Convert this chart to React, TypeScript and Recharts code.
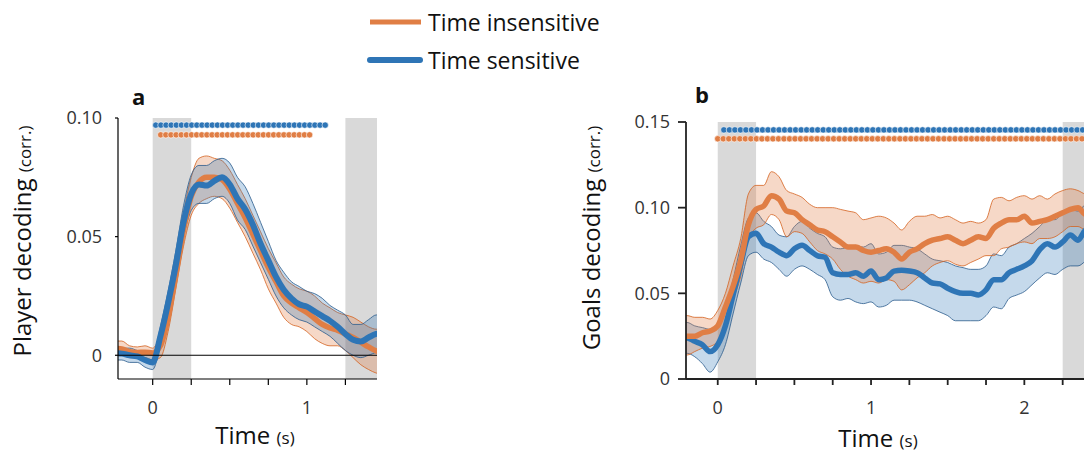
import React from "react";
import {
  Area,
  ComposedChart,
  Line,
  ReferenceArea,
  ReferenceLine,
  Scatter,
  XAxis,
  YAxis,
} from "recharts";

const ORANGE = "#E07E45";
const BLUE = "#2E75B6";
const ORANGE_EDGE = "#D4621F";
const BLUE_EDGE = "#2A5A8C";
const SHADE = "#D9D9D9";
const FONT = "'Open Sans', 'Noto Sans', sans-serif";

// panel a: player decoding
const TIME_A = [
  -0.25, -0.2, -0.15, -0.1, -0.05, 0, 0.05, 0.1, 0.15, 0.2, 0.25, 0.3, 0.35, 0.4, 0.45, 0.5, 0.55, 0.6,
  0.65, 0.7, 0.75, 0.8, 0.85, 0.9, 0.95, 1, 1.05, 1.1, 1.15, 1.2, 1.25, 1.3, 1.35, 1.4, 1.45, 1.5,
];
const INSENS_A = [
  0.003, 0.0027, 0.0015, 0.0012, 0.0013, 0.001, 0.004, 0.016, 0.034, 0.053, 0.067, 0.073, 0.075, 0.075,
  0.074, 0.07, 0.064, 0.058, 0.051, 0.044, 0.037, 0.031, 0.025, 0.022, 0.02, 0.018, 0.0155, 0.013, 0.0115,
  0.0105, 0.009, 0.0075, 0.0055, 0.0035, 0.0018, 0.001,
];
const INSENS_A_LO = [
  0, 0, -0.001, -0.001, -0.001, -0.002, -0.001, 0.01, 0.028, 0.046, 0.059, 0.064, 0.066, 0.067, 0.066,
  0.062, 0.056, 0.05, 0.043, 0.036, 0.028, 0.022, 0.016, 0.013, 0.012, 0.01, 0.007, 0.005, 0.004, 0.004,
  0.002, -0.001, -0.004, -0.006, -0.0075, -0.008,
];
const INSENS_A_HI = [
  0.006, 0.006, 0.004, 0.0035, 0.004, 0.003, 0.009, 0.022, 0.04, 0.06, 0.075, 0.083, 0.084, 0.083, 0.082,
  0.078, 0.072, 0.066, 0.059, 0.052, 0.045, 0.039, 0.033, 0.03, 0.028, 0.027, 0.025, 0.022, 0.02, 0.018,
  0.017, 0.016, 0.014, 0.012, 0.011, 0.011,
];
const SENS_A = [
  0.001, 0.0007, 0, -0.0005, -0.002, -0.003, 0.008, 0.022, 0.038, 0.056, 0.068, 0.072, 0.0715, 0.0735,
  0.075, 0.072, 0.066, 0.0615, 0.055, 0.047, 0.04, 0.033, 0.0276, 0.024, 0.0215, 0.0205, 0.0185, 0.0165,
  0.0145, 0.012, 0.009, 0.0065, 0.0058, 0.0075, 0.009, 0.0095,
];
const SENS_A_LO = [
  -0.002, -0.002, -0.003, -0.003, -0.005, -0.006, 0.004, 0.017, 0.032, 0.05, 0.061, 0.064, 0.064, 0.066,
  0.067, 0.064, 0.057, 0.053, 0.046, 0.039, 0.032, 0.025, 0.02, 0.017, 0.015, 0.014, 0.012, 0.01, 0.008,
  0.005, 0.002, 0, -0.001, 0, 0.001, 0.001,
];
const SENS_A_HI = [
  0.003, 0.003, 0.003, 0.002, 0.001, 0, 0.012, 0.027, 0.044, 0.063, 0.076, 0.08, 0.08, 0.082, 0.083,
  0.081, 0.075, 0.071, 0.064, 0.056, 0.048, 0.04, 0.035, 0.031, 0.029, 0.027, 0.026, 0.024, 0.021, 0.019,
  0.017, 0.013, 0.013, 0.015, 0.017, 0.017,
];

// panel b: goals decoding
const TIME_B = [
  -0.25, -0.2, -0.15, -0.1, -0.05, 0, 0.05, 0.1, 0.15, 0.2, 0.25, 0.3, 0.35, 0.4, 0.45, 0.5, 0.55, 0.6,
  0.65, 0.7, 0.75, 0.8, 0.85, 0.9, 0.95, 1, 1.05, 1.1, 1.15, 1.2, 1.25, 1.3, 1.35, 1.4, 1.45, 1.5, 1.55,
  1.6, 1.65, 1.7, 1.75, 1.8, 1.85, 1.9, 1.95, 2, 2.05, 2.1, 2.15, 2.2, 2.25, 2.3, 2.35, 2.4, 2.45, 2.5,
];
const INSENS_B = [
  0.025, 0.025, 0.025, 0.027, 0.028, 0.031, 0.042, 0.054, 0.069, 0.09, 0.099, 0.101, 0.107, 0.105, 0.098,
  0.097, 0.093, 0.09, 0.087, 0.086, 0.083, 0.08, 0.077, 0.077, 0.075, 0.074, 0.075, 0.076, 0.074, 0.07,
  0.074, 0.076, 0.079, 0.081, 0.082, 0.083, 0.081, 0.079, 0.081, 0.083, 0.082, 0.088, 0.091, 0.093, 0.093,
  0.095, 0.091, 0.092, 0.093, 0.095, 0.097, 0.099, 0.1, 0.096, 0.097, 0.097,
];
const INSENS_B_LO = [
  0.014, 0.014, 0.016, 0.018, 0.019, 0.022, 0.032, 0.046, 0.06, 0.082, 0.088, 0.09, 0.096, 0.093, 0.083,
  0.086, 0.085, 0.08, 0.075, 0.073, 0.07, 0.064, 0.06, 0.058, 0.056, 0.057, 0.056, 0.058, 0.057, 0.052,
  0.055, 0.059, 0.062, 0.066, 0.068, 0.069, 0.067, 0.066, 0.068, 0.07, 0.072, 0.072, 0.076, 0.077, 0.079,
  0.08, 0.079, 0.082, 0.082, 0.083, 0.086, 0.089, 0.089, 0.087, 0.088, 0.088,
];
const INSENS_B_HI = [
  0.037, 0.037, 0.036, 0.036, 0.035, 0.04, 0.05, 0.066, 0.082, 0.108, 0.113, 0.113, 0.121, 0.118, 0.11,
  0.108, 0.106, 0.102, 0.1, 0.1, 0.1, 0.099, 0.098, 0.097, 0.093, 0.094, 0.095, 0.094, 0.091, 0.087, 0.092,
  0.095, 0.095, 0.096, 0.094, 0.095, 0.093, 0.091, 0.092, 0.091, 0.093, 0.105, 0.106, 0.104, 0.106, 0.107,
  0.105, 0.107, 0.105, 0.108, 0.11, 0.111, 0.11, 0.108, 0.108, 0.108,
];
const SENS_B = [
  0.024, 0.024, 0.022, 0.02, 0.016, 0.02, 0.031, 0.049, 0.067, 0.083, 0.085, 0.079, 0.077, 0.074, 0.072,
  0.076, 0.078, 0.075, 0.072, 0.071, 0.062, 0.061, 0.061, 0.062, 0.06, 0.063, 0.058, 0.059, 0.063, 0.0635,
  0.063, 0.062, 0.059, 0.056, 0.0555, 0.053, 0.051, 0.05, 0.05, 0.049, 0.052, 0.058, 0.058, 0.062, 0.064,
  0.066, 0.069, 0.0755, 0.079, 0.077, 0.08, 0.084, 0.081, 0.087, 0.088, 0.089,
];
const SENS_B_LO = [
  0.015, 0.015, 0.013, 0.009, 0.004, 0.01, 0.02, 0.038, 0.056, 0.072, 0.074, 0.07, 0.068, 0.064, 0.06,
  0.064, 0.066, 0.064, 0.061, 0.058, 0.048, 0.046, 0.047, 0.045, 0.044, 0.045, 0.042, 0.043, 0.046, 0.046,
  0.046, 0.045, 0.043, 0.041, 0.039, 0.037, 0.034, 0.034, 0.034, 0.034, 0.037, 0.042, 0.041, 0.047, 0.049,
  0.051, 0.055, 0.059, 0.062, 0.061, 0.064, 0.066, 0.066, 0.069, 0.073, 0.074,
];
const SENS_B_HI = [
  0.033, 0.033, 0.031, 0.03, 0.029, 0.03, 0.04, 0.058, 0.078, 0.094, 0.097, 0.092, 0.089, 0.084, 0.083,
  0.089, 0.092, 0.088, 0.085, 0.083, 0.077, 0.076, 0.077, 0.078, 0.077, 0.079, 0.073, 0.074, 0.078, 0.078,
  0.077, 0.076, 0.073, 0.07, 0.069, 0.068, 0.066, 0.065, 0.064, 0.064, 0.066, 0.073, 0.072, 0.077, 0.079,
  0.082, 0.085, 0.089, 0.093, 0.093, 0.097, 0.099, 0.098, 0.102, 0.103, 0.104,
];

// significance markers: [first time, last time, step, y level]
const SIG_A_SENS = [0.02, 1.12, 0.0333, 0.097];
const SIG_A_INSENS = [0.052, 1.026, 0.0333, 0.0929];
const SIG_B_SENS = [0.04, 2.5, 0.036, 0.1454];
const SIG_B_INSENS = [0.0, 2.5, 0.036, 0.1402];

const X_DOMAIN_A = [-0.225, 1.455];
const Y_DOMAIN_A = [-0.01, 0.1];
const X_TICKS_A = [0, 0.25, 0.5, 0.75, 1, 1.25];
const Y_TICKS_A = [0, 0.05, 0.1];

const X_DOMAIN_B = [-0.207, 2.5];
const Y_DOMAIN_B = [0, 0.15];
const X_TICKS_B = [0, 0.25, 0.5, 0.75, 1, 1.25, 1.5, 1.75, 2, 2.25];
const Y_TICKS_B = [0, 0.05, 0.1, 0.15];

function buildRows(t: number[], o: number[], oLo: number[], oHi: number[], b: number[], bLo: number[], bHi: number[]) {
  return t.map((time, i) => ({
    t: time,
    insens: o[i],
    insensBand: [oLo[i], oHi[i]],
    sens: b[i],
    sensBand: [bLo[i], bHi[i]],
  }));
}

function sigDots(spec: number[]) {
  const [from, to, step, y] = spec;
  const out: { t: number; y: number }[] = [];
  for (let t = from; t <= to + 1e-9; t += step) out.push({ t, y });
  return out;
}

const dotShape = (color: string) => (p: any) =>
  <circle cx={p.cx} cy={p.cy} r={3.2} fill={color} stroke="#fff" strokeWidth={0.6} />;

const yFmt = (v: number) => (v === 0 ? "0" : v.toFixed(2));
const xFmt = (v: number) => (Number.isInteger(v) ? String(v) : "");

const tickStyle = { fontSize: 18, fill: "#333", fontFamily: FONT };

function PanelA() {
  const rows = buildRows(TIME_A, INSENS_A, INSENS_A_LO, INSENS_A_HI, SENS_A, SENS_A_LO, SENS_A_HI);
  const axis = { stroke: "#000", strokeWidth: 1.2 };
  return (
    <ComposedChart width={392} height={456} data={rows} margin={{ top: 118, right: 15, bottom: 37, left: 0 }}>
      <XAxis
        dataKey="t"
        type="number"
        domain={X_DOMAIN_A}
        allowDataOverflow
        ticks={X_TICKS_A}
        tickFormatter={xFmt}
        tickSize={6}
        tickMargin={16}
        height={40}
        axisLine={axis}
        tickLine={axis}
        tick={tickStyle}
      />
      <XAxis xAxisId="top" orientation="top" type="number" domain={X_DOMAIN_A} allowDataOverflow height={0} tick={false} tickLine={false} axisLine={axis} />
      <YAxis
        type="number"
        domain={Y_DOMAIN_A}
        allowDataOverflow
        ticks={Y_TICKS_A}
        tickFormatter={yFmt}
        tickSize={3}
        tickMargin={13}
        width={118}
        axisLine={axis}
        tickLine={axis}
        tick={tickStyle}
      />
      <YAxis yAxisId="right" orientation="right" domain={Y_DOMAIN_A} width={0} tick={false} tickLine={false} axisLine={axis} />
      <ReferenceArea x1={0} x2={0.25} fill={SHADE} fillOpacity={1} stroke="none" />
      <ReferenceArea x1={1.25} x2={X_DOMAIN_A[1]} fill={SHADE} fillOpacity={1} stroke="none" />
      <Area dataKey="insensBand" type="monotone" fill={ORANGE} fillOpacity={0.3} stroke={ORANGE_EDGE} strokeWidth={0.8} isAnimationActive={false} />
      <Area dataKey="sensBand" type="monotone" fill={BLUE} fillOpacity={0.28} stroke={BLUE_EDGE} strokeWidth={0.8} isAnimationActive={false} />
      <Line dataKey="insens" type="monotone" stroke={ORANGE} strokeWidth={5.5} dot={false} isAnimationActive={false} />
      <Line dataKey="sens" type="monotone" stroke={BLUE} strokeWidth={6} dot={false} isAnimationActive={false} />
      <ReferenceLine y={0} stroke="#000" strokeWidth={1.2} />
      <Scatter data={sigDots(SIG_A_SENS)} dataKey="y" shape={dotShape(BLUE)} isAnimationActive={false} />
      <Scatter data={sigDots(SIG_A_INSENS)} dataKey="y" shape={dotShape(ORANGE)} isAnimationActive={false} />
    </ComposedChart>
  );
}

function PanelB() {
  const rows = buildRows(TIME_B, INSENS_B, INSENS_B_LO, INSENS_B_HI, SENS_B, SENS_B_LO, SENS_B_HI);
  const axis = { stroke: "#222", strokeWidth: 1.8 };
  return (
    <ComposedChart width={551} height={456} data={rows} margin={{ top: 122, right: 10, bottom: 37, left: 0 }}>
      <XAxis
        dataKey="t"
        type="number"
        domain={X_DOMAIN_B}
        allowDataOverflow
        ticks={X_TICKS_B}
        tickFormatter={xFmt}
        tickSize={6}
        tickMargin={16}
        height={40}
        axisLine={axis}
        tickLine={axis}
        tick={tickStyle}
      />
      <XAxis xAxisId="top" orientation="top" type="number" domain={X_DOMAIN_B} allowDataOverflow height={0} tick={false} tickLine={false} axisLine={axis} />
      <YAxis
        type="number"
        domain={Y_DOMAIN_B}
        allowDataOverflow
        ticks={Y_TICKS_B}
        tickFormatter={yFmt}
        tickSize={8}
        tickMargin={8}
        width={126}
        axisLine={axis}
        tickLine={axis}
        tick={tickStyle}
      />
      <ReferenceArea x1={0} x2={0.25} fill={SHADE} fillOpacity={1} stroke="none" />
      <ReferenceArea x1={2.25} x2={X_DOMAIN_B[1]} fill={SHADE} fillOpacity={1} stroke="none" />
      <Area dataKey="sensBand" type="monotone" fill={BLUE} fillOpacity={0.28} stroke={BLUE_EDGE} strokeWidth={0.8} isAnimationActive={false} />
      <Area dataKey="insensBand" type="monotone" fill={ORANGE} fillOpacity={0.3} stroke={ORANGE_EDGE} strokeWidth={0.8} isAnimationActive={false} />
      <Line dataKey="sens" type="monotone" stroke={BLUE} strokeWidth={5.5} dot={false} isAnimationActive={false} />
      <Line dataKey="insens" type="monotone" stroke={ORANGE} strokeWidth={5.5} dot={false} isAnimationActive={false} />
      <Scatter data={sigDots(SIG_B_SENS)} dataKey="y" shape={dotShape(BLUE)} isAnimationActive={false} />
      <Scatter data={sigDots(SIG_B_INSENS)} dataKey="y" shape={dotShape(ORANGE)} isAnimationActive={false} />
    </ComposedChart>
  );
}

const abs = (left: number, top: number): React.CSSProperties => ({ position: "absolute", left, top });

function VLabel({ x, y, main, unit }: { x: number; y: number; main: string; unit: string }) {
  return (
    <div
      style={{
        ...abs(x, y),
        transform: "translate(-50%, -50%) rotate(-90deg)",
        whiteSpace: "nowrap",
        fontSize: 24,
        lineHeight: "28px",
        color: "#111",
      }}
    >
      {main} <span style={{ fontSize: 17 }}>{unit}</span>
    </div>
  );
}

function HLabel({ x, y }: { x: number; y: number }) {
  return (
    <div style={{ ...abs(x, y), transform: "translate(-50%, -50%)", whiteSpace: "nowrap", fontSize: 24, lineHeight: "28px", color: "#111" }}>
      Time <span style={{ fontSize: 17 }}>(s)</span>
    </div>
  );
}

export default function App() {
  return (
    <div
      style={{
        position: "fixed",
        left: 0,
        top: 0,
        width: 1084,
        height: 456,
        overflow: "hidden",
        background: "#fff",
        fontFamily: FONT,
      }}
    >
      <svg width={1084} height={80} style={abs(0, 0)}>
        <line x1={370} y1={22} x2={421} y2={22} stroke={ORANGE} strokeWidth={5} />
        <line x1={370} y1={60} x2={420} y2={60} stroke={BLUE} strokeWidth={6} strokeLinecap="round" />
        <text x={428} y={22} dominantBaseline="central" fontSize={23} fill="#111" fontFamily={FONT}>
          Time insensitive
        </text>
        <text x={428} y={60} dominantBaseline="central" fontSize={23} fill="#111" fontFamily={FONT}>
          Time sensitive
        </text>
      </svg>
      <div style={abs(0, 0)}>
        <PanelA />
      </div>
      <div style={abs(560, 0)}>
        <PanelB />
      </div>
      <div style={{ ...abs(132, 81), fontSize: 22, fontWeight: 700, color: "#111" }}>a</div>
      <div style={{ ...abs(695, 79), fontSize: 22, fontWeight: 700, color: "#111" }}>b</div>
      <VLabel x={23} y={241} main="Player decoding" unit="(corr.)" />
      <VLabel x={592} y={238} main="Goals decoding" unit="(corr.)" />
      <HLabel x={255} y={436} />
      <HLabel x={878} y={439} />
    </div>
  );
}
